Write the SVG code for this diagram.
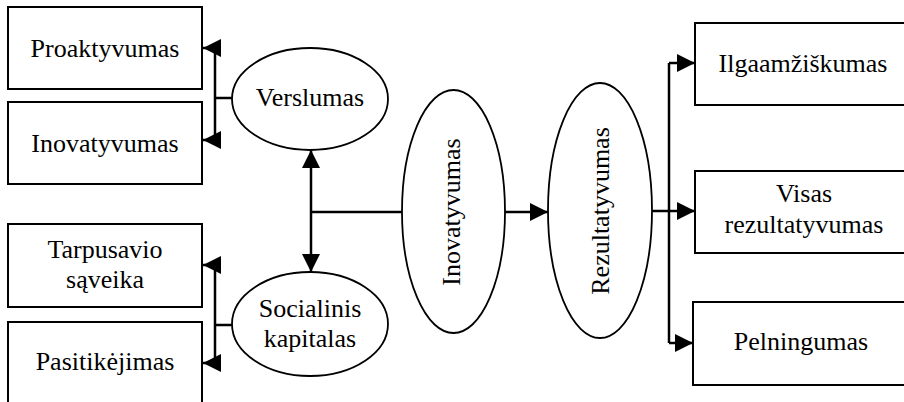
<svg xmlns="http://www.w3.org/2000/svg" width="904" height="402" viewBox="0 0 904 402">
  <style>
    .box { fill: #fff; stroke: #000; stroke-width: 2; }
    .oval { fill: #fff; stroke: #000; stroke-width: 1.8; }
    .lbl { font-family: "Liberation Serif", "DejaVu Serif", serif; font-size: 26px; fill: #000; text-anchor: middle; }
    .link { fill: none; stroke: #000; stroke-width: 2.5; }
    .arrow { fill: none; stroke: #000; stroke-width: 2.5; marker-end: url(#head); }
  </style>
  <defs>
    <marker id="head" markerUnits="userSpaceOnUse" markerWidth="18" markerHeight="18" refX="18" refY="9" orient="auto">
      <path d="M0,0 L18,9 L0,18 Z" fill="#000"/>
    </marker>
  </defs>

  <rect width="904" height="402" fill="#fff"/>

  <!-- connectors -->
  <g id="connectors">
    <!-- Verslumas branch -->
    <path class="link" d="M232,98 H215 M215,48 V140"/>
    <path class="arrow" d="M215,48 H203"/>
    <path class="arrow" d="M215,140 H203"/>
    <!-- Socialinis kapitalas branch -->
    <path class="link" d="M232,325 H215 M215,265 V363"/>
    <path class="arrow" d="M215,265 H203"/>
    <path class="arrow" d="M215,363 H203"/>
    <!-- two-way link between the two left ovals, joined to Inovatyvumas -->
    <path class="link" d="M311,212 H402"/>
    <path class="arrow" d="M311,212 V150"/>
    <path class="arrow" d="M311,212 V272"/>
    <!-- Inovatyvumas to Rezultatyvumas -->
    <path class="arrow" d="M505,212 H548"/>
    <!-- Rezultatyvumas to outcomes -->
    <path class="link" d="M652,211 H669 M669,63 V343"/>
    <path class="arrow" d="M669,63 H695"/>
    <path class="arrow" d="M669,211 H695"/>
    <path class="arrow" d="M669,343 H693"/>
  </g>

  <g id="proaktyvumas">
    <rect class="box" x="8" y="7" width="194" height="82"/>
    <text class="lbl" x="105" y="57">Proaktyvumas</text>
  </g>
  <g id="inovatyvumas-box">
    <rect class="box" x="8" y="102" width="194" height="82"/>
    <text class="lbl" x="105" y="152">Inovatyvumas</text>
  </g>
  <g id="tarpusavio-saveika">
    <rect class="box" x="8" y="224" width="194" height="83"/>
    <text class="lbl" x="105" y="258">Tarpusavio</text>
    <text class="lbl" x="105" y="288">sąveika</text>
  </g>
  <g id="pasitikejimas">
    <rect class="box" x="8" y="322" width="194" height="90"/>
    <text class="lbl" x="105" y="370">Pasitikėjimas</text>
  </g>

  <g id="verslumas">
    <ellipse class="oval" cx="310" cy="99" rx="78" ry="51"/>
    <text class="lbl" x="310" y="106">Verslumas</text>
  </g>
  <g id="socialinis-kapitalas">
    <ellipse class="oval" cx="310" cy="324" rx="78" ry="52"/>
    <text class="lbl" x="310" y="317">Socialinis</text>
    <text class="lbl" x="310" y="347">kapitalas</text>
  </g>

  <g id="inovatyvumas">
    <ellipse class="oval" cx="453.5" cy="211.5" rx="51.5" ry="121.5"/>
    <text class="lbl" transform="translate(460,212) rotate(-90)">Inovatyvumas</text>
  </g>
  <g id="rezultatyvumas">
    <ellipse class="oval" cx="600" cy="210.5" rx="52" ry="127.5"/>
    <text class="lbl" transform="translate(609,211) rotate(-90)">Rezultatyvumas</text>
  </g>

  <g id="ilgaamziskumas">
    <rect class="box" x="695" y="23" width="220" height="82"/>
    <text class="lbl" x="803" y="72">Ilgaamžiškumas</text>
  </g>
  <g id="visas-rezultatyvumas">
    <rect class="box" x="695" y="171" width="220" height="82"/>
    <text class="lbl" x="804" y="202">Visas</text>
    <text class="lbl" x="804" y="233">rezultatyvumas</text>
  </g>
  <g id="pelningumas">
    <rect class="box" x="693" y="302" width="222" height="83"/>
    <text class="lbl" x="801" y="350">Pelningumas</text>
  </g>
</svg>
